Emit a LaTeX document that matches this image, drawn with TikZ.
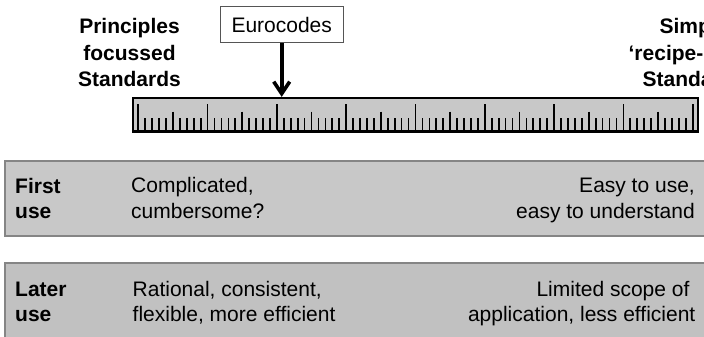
\documentclass[tikz,border=0pt]{standalone}
\usepackage{fontspec}
\setmainfont{Liberation Sans}
\usetikzlibrary{arrows.meta}
\definecolor{panelfill}{HTML}{C8C8C8}
\definecolor{panelfilldark}{HTML}{C1C1C1}
\definecolor{panelborder}{HTML}{858585}
\definecolor{rulerfill}{HTML}{C8C8C8}
\definecolor{labelborder}{HTML}{555555}
\begin{document}
\begin{tikzpicture}[x=1pt,y=-1pt,
  bigtext/.style={font=\fontsize{21}{26.7}\selectfont\bfseries, inner sep=0pt, align=center},
  paneltext/.style={font=\fontsize{21}{25.6}\selectfont, inner sep=0pt},
  panellabel/.style={font=\fontsize{21}{25.3}\selectfont\bfseries, inner sep=0pt, align=left},
  panel/.style={draw=panelborder, line width=2.2pt},
  tick/.style={line width=1.7pt},
]
\useasboundingbox (0,0) rectangle (704,337);

% scale titles at both ends (anchored on the last baseline)
\node[bigtext, anchor=base] (principles) at (129.5,86.7)
  {Principles\\focussed\\Standards};
\node[bigtext, anchor=base] (simple) at (694,86.7)
  {Simple\\‘recipe-book’\\Standards};

% the ruler
\node[draw, line width=2.2pt, fill=rulerfill, minimum width=565pt,
  minimum height=33.5pt, inner sep=0pt] (ruler) at (415.5,114.75) {};
\foreach \i in {0,...,80}{
  \pgfmathsetmacro{\tx}{138.3+6.93*\i}
  \pgfmathsetmacro{\ttop}{ifthenelse(mod(\i,10)==0,104,ifthenelse(mod(\i,5)==0,111.7,118.3))}
  \draw[tick] (\tx,\ttop) -- (\tx,131);
}

% marker for the Eurocodes
\node[draw=labelborder, line width=1pt, fill=white, minimum width=123pt,
  minimum height=36pt, inner sep=0pt, font=\fontsize{21}{25}\selectfont]
  (euro) at (281.7,24.7) {Eurocodes};
\draw[line width=3.6pt, -{Straight Barb[length=12pt,width=16pt]}]
  (euro.south) -- (euro.south |- ruler.north);

% first-use panel
\path[panel, fill=panelfill] (5,161) rectangle (725,236);
\node[panellabel, anchor=base west] (first) at (15,218.3) {First\\use};
\node[paneltext, align=left, anchor=base west] (firstleft) at (131,218.3)
  {Complicated,\\cumbersome?};
\node[paneltext, align=right, anchor=base east] (firstright) at (695,218.3)
  {Easy to use,\\easy to understand};

% later-use panel
\path[panel, fill=panelfilldark] (5,263.3) rectangle (725,360);
\node[panellabel, anchor=base west] (later) at (15,321.7) {Later\\use};
\node[paneltext, align=left, anchor=base west] (laterleft) at (132.5,321.7)
  {Rational, consistent,\\flexible, more efficient};
\node[paneltext, align=right, anchor=base east] (laterright) at (695.5,321.7)
  {Limited scope of\hspace*{0.278em}\\application, less efficient};
\end{tikzpicture}
\end{document}
